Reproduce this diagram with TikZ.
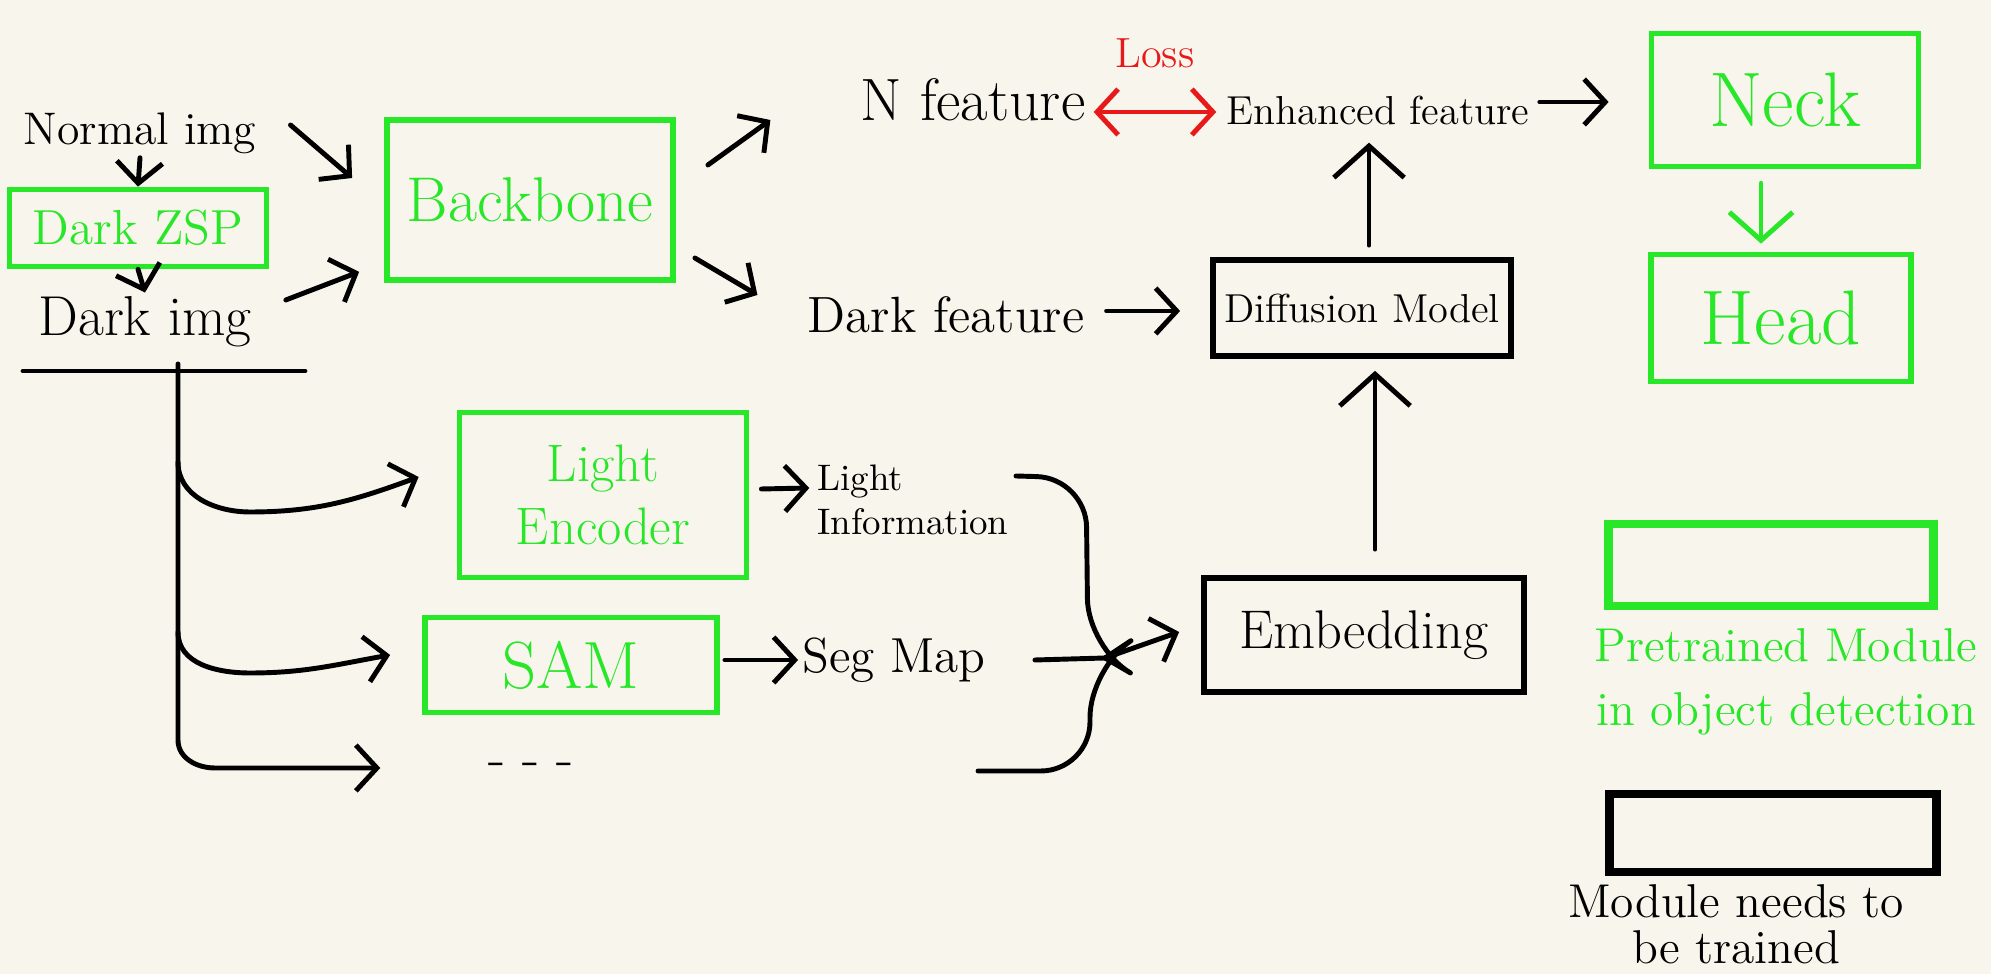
\documentclass[tikz,border=0pt]{standalone}
\usetikzlibrary{arrows.meta,calc}
\definecolor{bg}{RGB}{248,246,236}
\definecolor{pgreen}{RGB}{40,230,40}
\definecolor{lossred}{RGB}{232,25,25}
\newcommand{\fs}[1]{\fontsize{#1}{1.2\dimexpr #1pt\relax}\selectfont}
\begin{document}
\begin{tikzpicture}[x=0.01cm,y=-0.01cm,
  line/.style={line width=1.4pt, line cap=round, line join=round},
  arr/.style={line, -{Straight Barb[length=6pt,width=13pt]}},
  bigarr/.style={line, -{Straight Barb[length=9pt,width=20pt]}},
  gbox/.style={draw=pgreen, line width=1.6pt, text=pgreen, inner sep=0pt, align=center},
  kbox/.style={draw=black, line width=1.6pt, text=black, inner sep=0pt, align=center},
  lbl/.style={inner sep=1pt, align=center}]
\fill[bg] (0,0) rectangle (1991,974);
\useasboundingbox (0,0) rectangle (1991,974);

% left column
\node[lbl, font=\fs{13}] (normal) at (140,133) {Normal img};
\node[gbox, font=\fs{14}, minimum width=2.57cm, minimum height=0.77cm] (zsp) at (138,228) {Dark ZSP};
\node[lbl, font=\fs{16}] (dark) at (145,322) {Dark img};
\node[gbox, font=\fs{18}, minimum width=2.86cm, minimum height=1.6cm] (backbone) at (530,200) {Backbone};

% features
\node[lbl, font=\fs{17}] (nfeat) at (973,100) {N feature};
\node[lbl, font=\fs{12}, text=lossred] (loss) at (1155,53) {Loss};
\node[lbl, font=\fs{11.5}] (enh) at (1378,110) {Enhanced feature};
\node[lbl, font=\fs{14.5}] (dfeat) at (946,315) {Dark feature};
\node[kbox, font=\fs{11.5}, minimum width=2.98cm, minimum height=0.96cm] (diff) at (1362,308) {Diffusion Model};
\node[kbox, font=\fs{15.5}, minimum width=3.2cm, minimum height=1.14cm] (embed) at (1364,635) {Embedding};

% detector
\node[gbox, font=\fs{22}, minimum width=2.67cm, minimum height=1.33cm] (neck) at (1785,100) {Neck};
\node[gbox, font=\fs{22}, minimum width=2.6cm, minimum height=1.27cm] (head) at (1781,318) {Head};

% lower branch
\node[gbox, font=\fs{15}, minimum width=2.87cm, minimum height=1.65cm] (light) at (603,495) {Light\\Encoder};
\node[gbox, font=\fs{19}, minimum width=2.92cm, minimum height=0.95cm] (sam) at (571,665) {SAM};
\node[lbl, font=\fs{16}] (dots) at (531,770) {- - -};
\node[lbl, font=\fs{10.5}, align=left] (lightinfo) at (913,500) {Light\\Information};
\node[lbl, font=\fs{14}] (segmap) at (894,660) {Seg Map};

% legend
\node[draw=pgreen, line width=2.4pt, inner sep=0pt, minimum width=3.25cm, minimum height=0.82cm] (legG) at (1771,565) {};
\node[lbl, font=\fs{13.5}, text=pgreen] (legGt) at (1786,682) {Pretrained Module\\[2pt]in object detection};
\node[draw=black, line width=2.4pt, inner sep=0pt, minimum width=3.27cm, minimum height=0.78cm] (legK) at (1773,833) {};
\node[lbl, font=\fontsize{13.5}{13}\selectfont] (legKt) at (1736,924) {Module needs to\\be trained};

% connectors top-left
\draw[arr] (normal.south) -- (zsp.north);
\draw[arr] (zsp.south) -- (dark.north);
\draw[arr] ($(normal.east)+(30,-8)$) -- ($(backbone.west)+(-32,-22)$);
\draw[arr] ($(dark.east)+(30,-22)$) -- ($(backbone.south west)+(-25,-11)$);
\draw[arr] ($(backbone.east)+(32,-35)$) -- ($(nfeat.west)+(-86,20)$);
\draw[arr] ($(backbone.east)+(19,58)$) -- ($(dfeat.west)+(-46,-20)$);

% loss and features
\draw[line, lossred, {Straight Barb[length=6pt,width=13pt]}-{Straight Barb[length=6pt,width=13pt]}] ($(nfeat.east)+(4,12)$) -- ($(enh.west)+(-6,2)$);
\draw[arr] ($(enh.east)+(6,-8)$) -- ($(neck.west)+(-40,2)$);
\draw[arr] ($(dfeat.east)+(18,-4)$) -- ($(diff.west)+(-30,3)$);
\draw[bigarr] ($(diff.north)+(7,-12)$) -- ($(diff.north |- enh.south)+(7,14)$);
\draw[bigarr] ($(embed.north)+(11,-26)$) -- ($(embed.north |- diff.south)+(11,12)$);
\draw[line, pgreen, -{Straight Barb[length=8pt,width=18pt]}] ($(neck.south)+(-24,14)$) -- ($(head.north)+(-20,-8)$);

% bus from dark img
\coordinate (barL) at (23,371);
\coordinate (barR) at (305,371);
\coordinate (trunk) at (178,364);
\draw[line] (barL) -- (barR);
\draw[arr] (trunk) -- (178,740) to[out=-90,in=180] (215,768) -- ($(dots.west)+(-104,-2)$);
\draw[arr] (178,462) to[out=-90,in=180] (250,512) to[out=0,in=200] ($(light.west)+(-38,-18)$);
\draw[arr] (178,632) to[out=-90,in=180] (250,673) to[out=0,in=190] ($(sam.west)+(-32,-10)$);

\draw[arr] ($(light.east)+(12,-6)$) -- ($(lightinfo.west)+(-4,-12)$);
\draw[arr] ($(sam.east)+(5,-5)$) -- (segmap.west);

% brace gathering into embedding
\coordinate (tip) at (1105,658);
\draw[line, rounded corners=14] (1016,476) -- (1086,478) -- (1088,648) -- (tip);
\draw[line, rounded corners=14] (978,771) -- (1090,771) -- (1090,668) -- (tip);
\draw[line] ($(segmap.east)+(45,0)$) -- (tip);
\draw[arr] (tip) -- ($(embed.west)+(-22,-3)$);
\end{tikzpicture}
\end{document}
